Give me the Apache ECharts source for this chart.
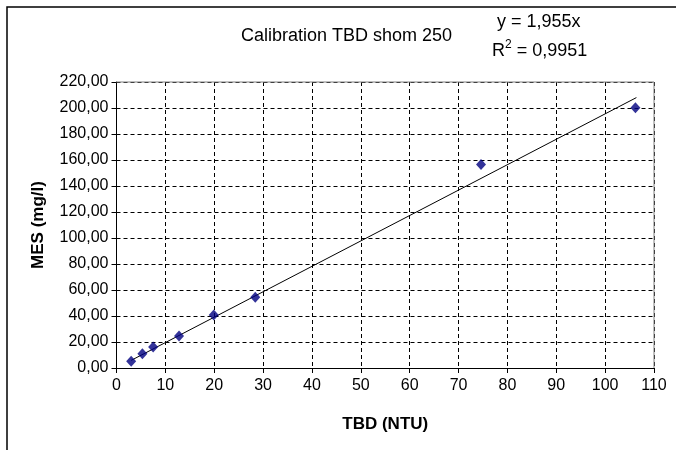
<!DOCTYPE html>
<html><head><meta charset="utf-8">
<script src="https://cdn.jsdelivr.net/npm/echarts@6/dist/echarts.min.js"></script>
<style>html,body{margin:0;padding:0;background:#fff}#c{width:676px;height:450px}</style>
</head><body><div id="c"></div>
<script>
var titleText = 'Calibration TBD shom 250';
var eqText = 'y = 1,955x';
var r2Label = 'R';
var r2Value = ' = 0,9951';
var xName = 'TBD (NTU)';
var yName = 'MES (mg/l)';
var tbd = [3.0, 5.3, 7.5, 12.8, 19.9, 28.4, 74.6, 106.2];
var mes = [5.2, 10.9, 16.1, 24.7, 40.8, 54.5, 156.5, 200.2];
var slope = 1.955;
var trendX = [3.0, 106.4];

var chart = echarts.init(document.getElementById('c'), null, {renderer:'canvas'});
var pts = tbd.map(function(x,i){return [x, mes[i]];});
var trend = trendX.map(function(x){return [x, slope*x];});
var font = 'Liberation Sans, Arial, sans-serif';
chart.setOption({
  animation:false,
  backgroundColor:'#fff',
  grid:{left:116.5, right:22, top:82, bottom:82, containLabel:false},
  title:{text:titleText, left:236, top:22, textStyle:{fontFamily:font, fontSize:18, fontWeight:'normal', color:'#000'}},
  graphic:[
    {type:'rect', shape:{x:7,y:7,width:700,height:500}, style:{fill:'none', stroke:'#000', lineWidth:1.5}, z:0},
    {type:'text', left:497, top:13, style:{text:eqText, font:'18px '+font, fill:'#000'}},
    {type:'text', left:492, top:39, style:{text:'{a|'+r2Label+'}{s|2}{a|'+r2Value+'}', rich:{
        a:{fontFamily:font, fontSize:18, color:'#000', verticalAlign:'bottom'},
        s:{fontFamily:font, fontSize:12, color:'#000', verticalAlign:'top', padding:[0,0,9,0]}}}},
    {type:'line', shape:{x1:116.5,y1:82,x2:654,y2:82}, style:{stroke:'#808080', lineWidth:1}, z:10},
    {type:'line', shape:{x1:654,y1:82,x2:654,y2:368}, style:{stroke:'#808080', lineWidth:1}, z:10}
  ],
  xAxis:{type:'value', min:0, max:110, interval:10, name:xName, nameLocation:'middle', nameGap:48,
    nameTextStyle:{fontFamily:font, fontSize:17, fontWeight:'bold', color:'#000'},
    axisLine:{show:true, onZero:false, lineStyle:{color:'#000', width:1}},
    axisTick:{show:true, length:5, lineStyle:{color:'#000'}},
    axisLabel:{fontFamily:font, fontSize:16, color:'#000', margin:10},
    splitLine:{show:true, lineStyle:{color:'#000', type:[4,3], width:1}}},
  yAxis:{type:'value', min:0, max:220, interval:20, name:yName, nameLocation:'middle', nameGap:70,
    nameTextStyle:{fontFamily:font, fontSize:17, fontWeight:'bold', color:'#000'},
    axisLine:{show:true, onZero:false, lineStyle:{color:'#000', width:1}},
    axisTick:{show:true, length:5, lineStyle:{color:'#000'}},
    axisLabel:{fontFamily:font, fontSize:16, color:'#000', margin:8,
      formatter:function(v){return v.toFixed(2).replace('.',',');}},
    splitLine:{show:true, lineStyle:{color:'#000', type:[4,3], width:1}}},
  series:[
    {type:'line', data:trend, symbol:'none', lineStyle:{color:'#000', width:1}, z:3},
    {type:'scatter', data:pts, symbol:'diamond', symbolSize:[10,11], itemStyle:{color:'#000080'}, z:4}
  ]
});
</script></body></html>
